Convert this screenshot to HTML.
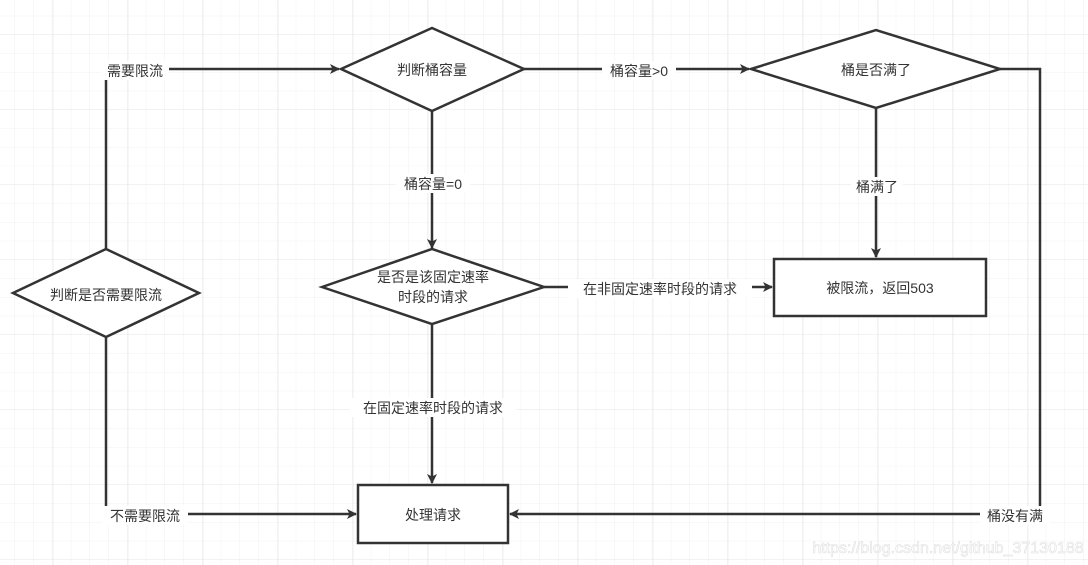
<!DOCTYPE html>
<html><head><meta charset="utf-8"><style>
html,body{margin:0;padding:0;background:#fff;}
svg{display:block;}
text{font-family:"Liberation Sans","Noto Sans CJK SC",sans-serif;font-size:14px;fill:#333;}
</style></head><body>
<svg width="1088" height="565" viewBox="0 0 1088 565" xmlns="http://www.w3.org/2000/svg">
<defs>
<pattern id="minor" x="-3.75" y="-2.5" width="18.75" height="18.75" patternUnits="userSpaceOnUse">
<path d="M18.75 0V18.75M0 18.75H18.75" stroke="#f0f0f0" stroke-width="1" fill="none"/>
</pattern>
<pattern id="major" x="-21.7" y="-40" width="75" height="75" patternUnits="userSpaceOnUse">
<path d="M75 0V75M0 75H75" stroke="#e4e4e4" stroke-width="1" fill="none"/>
</pattern>
<marker id="a" markerWidth="10" markerHeight="10" refX="9" refY="5" orient="auto" markerUnits="userSpaceOnUse">
<path d="M0 0L10 5L0 10L2.5 5Z" fill="#333"/>
</marker>
</defs>
<rect width="1088" height="565" fill="#fff"/>
<rect width="1088" height="565" fill="url(#minor)"/>
<rect width="1088" height="565" fill="url(#major)"/>
<g stroke="#333" stroke-width="2.5" fill="none">
<polyline points="106,249 106,69 339,69" marker-end="url(#a)"/>
<line x1="524" y1="69" x2="749" y2="69" marker-end="url(#a)"/>
<line x1="432" y1="111" x2="432" y2="248" marker-end="url(#a)"/>
<line x1="876" y1="108" x2="876" y2="257" marker-end="url(#a)"/>
<line x1="544" y1="287" x2="772" y2="287" marker-end="url(#a)"/>
<line x1="432" y1="325" x2="432" y2="483" marker-end="url(#a)"/>
<polyline points="106,337 106,514 356,514" marker-end="url(#a)"/>
<polyline points="1000,69 1040,69 1040,514 510,514" marker-end="url(#a)"/>
</g>
<g stroke="#333" stroke-width="2.5" fill="#fff">
<polygon points="341,69 432,28 524,69 432,111"/>
<polygon points="751,69 876,30 1000,69 876,108"/>
<polygon points="13,293 106,249 199,293 106,337"/>
<polygon points="322,287 432,249 544,287 432,324"/>
<rect x="774" y="259" width="212" height="57"/>
<rect x="358" y="485" width="150" height="58"/>
</g>
<g fill="#fff">
<rect x="101" y="61" width="68" height="19"/>
<rect x="602" y="61" width="74" height="19"/>
<rect x="396" y="174" width="74" height="19"/>
<rect x="851" y="177" width="52" height="19"/>
<rect x="568" y="279" width="184" height="19"/>
<rect x="350" y="398" width="166" height="19"/>
<rect x="102" y="506" width="86" height="19"/>
<rect x="980" y="506" width="70" height="19"/>
</g>
<g text-anchor="middle">
<text x="135" y="76">需要限流</text>
<text x="639" y="76">桶容量&gt;0</text>
<text x="433" y="189">桶容量=0</text>
<text x="877" y="192">桶满了</text>
<text x="660" y="294">在非固定速率时段的请求</text>
<text x="433" y="413">在固定速率时段的请求</text>
<text x="145" y="521">不需要限流</text>
<text x="1015" y="521">桶没有满</text>
<text x="432" y="75">判断桶容量</text>
<text x="876" y="75">桶是否满了</text>
<text x="106" y="300">判断是否需要限流</text>
<text x="433" y="282">是否是该固定速率</text>
<text x="433" y="302">时段的请求</text>
<text x="880" y="293">被限流，返回503</text>
<text x="433" y="520">处理请求</text>
</g>
<text x="948" y="553" text-anchor="middle" style="font-size:16px;fill:#fff;stroke:#ddd;stroke-width:0.6;opacity:0.9">https://blog.csdn.net/github_37130188</text>
</svg>
</body></html>
